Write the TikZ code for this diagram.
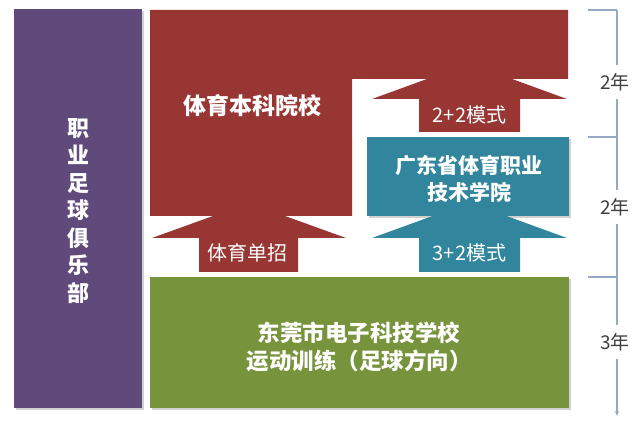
\documentclass[tikz,border=0pt]{standalone}
\usepackage{fontspec}
\setmainfont{Noto Sans CJK SC}
\newfontfamily\cjk{Noto Sans CJK SC}
\usetikzlibrary{arrows.meta}
\definecolor{clubpurple}{HTML}{604A7B}
\definecolor{unired}{HTML}{983633}
\definecolor{voctealc}{HTML}{31859C}
\definecolor{schoolgreen}{HTML}{77933C}
\definecolor{scaleline}{HTML}{95A9C4}
\definecolor{scaletext}{HTML}{404040}
\tikzset{
  boxtitle/.style={text=white, font=\cjk\bfseries\fontsize{22}{27.5}\selectfont, align=center, inner sep=0pt},
  arrowlabel/.style={text=white, font=\cjk\fontsize{20}{24}\selectfont, inner sep=0pt},
  yearlabel/.style={text=scaletext, fill=white, font=\cjk\fontsize{19}{22}\selectfont, inner xsep=1pt, inner ysep=8pt},
  scalestroke/.style={draw=scaleline, line width=1.1pt},
  shadowfill/.style={fill=black!18}
}
\begin{document}
\begin{tikzpicture}[x=1pt,y=-1pt]
\useasboundingbox (0,0) rectangle (640,446);
% shadows
\fill[shadowfill] (16,11) rectangle (144,410);
\fill[shadowfill] (152,279) rectangle (571,410);
\fill[shadowfill] (369,139) rectangle (571,218);
% purple club column
\fill[clubpurple] (14,9) rectangle (142,408);
% red university block
\fill[unired] (150,10) -- (568,10) -- (568,79) -- (352,79) -- (352,216) -- (150,216) -- cycle;
% arrow 2+2 (red)
\fill[unired] (419,132) -- (419,99) -- (372,99) -- (469.5,63.5) -- (567,99) -- (520,99) -- (520,132) -- cycle;
% teal college box
\fill[voctealc] (367,137) rectangle (569,216);
% arrow 3+2 (teal)
\fill[voctealc] (419,272) -- (419,238) -- (372,238) -- (469.5,202.5) -- (567,238) -- (520,238) -- (520,272) -- cycle;
% arrow single admission (red)
\fill[unired] (199,272) -- (199,238) -- (152,238) -- (249,203) -- (346,238) -- (298,238) -- (298,272) -- cycle;
% green school box
\fill[schoolgreen] (150,277) rectangle (569,408);

% texts
\node[boxtitle] (club) at (78,211) {职\\业\\足\\球\\俱\\乐\\部};
\node[boxtitle, font=\cjk\bfseries\fontsize{23}{27}\selectfont] (uni) at (252,106) {体育本科院校};
\node[boxtitle, font=\cjk\bfseries\fontsize{21}{27}\selectfont] (voc) at (469,179) {广东省体育职业\\技术学院};
\node[boxtitle, font=\cjk\bfseries\fontsize{22.5}{28}\selectfont] (school) at (359,347) {东莞市电子科技学校\\运动训练（足球方向）};
\node[arrowlabel] (twotwo) at (469.5,115) {2+2模式};
\node[arrowlabel] (single) at (247,253) {体育单招};
\node[arrowlabel] (threetwo) at (469.5,253) {3+2模式};

% time scale
\coordinate (s0) at (617,10);
\coordinate (s1) at (617,137);
\coordinate (s2) at (617,277);
\coordinate (s3) at (617,416);
\coordinate (t0) at (588,10);
\coordinate (t1) at (588,137);
\coordinate (t2) at (588,277);
\draw[scalestroke] (t0) -- (s0);
\draw[scalestroke] (t1) -- (s1);
\draw[scalestroke] (t2) -- (s2);
\draw[scalestroke, -{Stealth[length=5pt,width=4pt]}] (s0) -- (s3);
\node[yearlabel] (y1) at (615,82) {2年};
\node[yearlabel] (y2) at (615,207) {2年};
\node[yearlabel] (y3) at (615,342) {3年};
\end{tikzpicture}
\end{document}
